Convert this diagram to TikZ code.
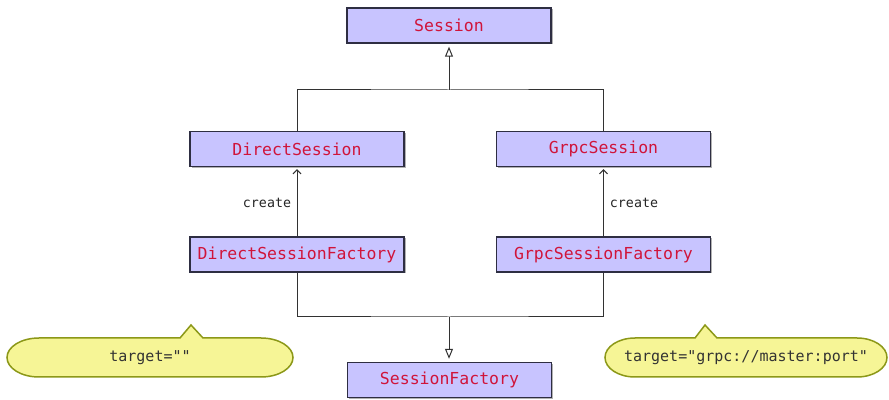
\documentclass[tikz,border=0pt]{standalone}
\usepackage{fontspec}
\setmonofont{DejaVu Sans Mono}
\usetikzlibrary{arrows.meta,shadows}

\definecolor{classfill}{RGB}{200,196,255}
\definecolor{classedge}{RGB}{46,46,66}
\definecolor{classtext}{RGB}{208,20,58}
\definecolor{noteedge}{RGB}{140,152,24}
\definecolor{notefill}{RGB}{246,245,150}
\definecolor{wire}{RGB}{50,50,50}

\tikzset{
  classbox/.style={draw=classedge, line width=1.4pt, fill=classfill,
    minimum height=35pt, inner sep=0pt, text=classtext,
    font=\ttfamily\fontsize{16.5}{20}\selectfont,
    drop shadow={shadow xshift=1.5pt, shadow yshift=-1.5pt, fill=black, opacity=0.3}},
  wideclass/.style={classbox, minimum width=214pt},
  narrowclass/.style={classbox, minimum width=204pt},
  wireline/.style={draw=wire, line width=1pt},
  inherit/.style={wireline, -{Triangle[open, length=10pt, width=8pt]}, shorten >=3pt},
  creates/.style={wireline, -{Straight Barb[length=4pt, width=8pt]}, shorten >=2pt},
  relabel/.style={text=black!85, font=\ttfamily\fontsize{13.3}{16}\selectfont},
  notebody/.style={draw=noteedge, line width=1.5pt, fill=notefill},
  notetext/.style={text=black!80, font=\ttfamily\fontsize{15}{18}\selectfont},
}

\begin{document}
\begin{tikzpicture}[x=1pt, y=1pt]
  \fill[white] (0,0) rectangle (889,399);
  \useasboundingbox (0,0) rectangle (889,399);

  % class boxes
  \node[narrowclass] (s)   at (449,373.5) {Session};
  \node[wideclass]   (ds)  at (297,250)   {DirectSession};
  \node[wideclass]   (gs)  at (603.5,250) {GrpcSession};
  \node[wideclass]   (dsf) at (297,144.5) {DirectSessionFactory};
  \node[wideclass]   (gsf) at (603.5,144.5) {GrpcSessionFactory};
  \node[narrowclass] (sf)  at (449.5,19)  {SessionFactory};

  % inheritance from Session
  \coordinate (topbar) at (449,309);
  \draw[wireline] (ds.north) |- (topbar) -| (gs.north);
  \draw[inherit] (topbar) -- (topbar |- s.south);

  % inheritance from SessionFactory
  \coordinate (botbar) at (449,82);
  \draw[wireline] (dsf.south) |- (botbar) -| (gsf.south);
  \draw[inherit] (botbar) -- (botbar |- sf.north);

  % create relations
  \draw[creates] (dsf.north) -- (ds.south);
  \draw[creates] (gsf.north) -- (gs.south);
  \node[relabel] (cl) at (267,196) {create};
  \node[relabel] (cr) at (634,196) {create};

  % notes
  \path[notebody]
    (7,41.5) arc[start angle=180, end angle=90, x radius=32, y radius=19.5]
    -- (180,61) -- (191,74) -- (203,61)
    -- (261,61) arc[start angle=90, end angle=-90, x radius=32, y radius=19.5]
    -- (39,22) arc[start angle=270, end angle=180, x radius=32, y radius=19.5]
    -- cycle;
  \node[notetext] (nl) at (150,41.5) {target=""};

  \path[notebody]
    (605,41.5) arc[start angle=180, end angle=90, x radius=30, y radius=19.5]
    -- (695,61) -- (705,74) -- (717,61)
    -- (857,61) arc[start angle=90, end angle=-90, x radius=30, y radius=19.5]
    -- (635,22) arc[start angle=270, end angle=180, x radius=30, y radius=19.5]
    -- cycle;
  \node[notetext] (nr) at (746,41.5) {target="grpc://master:port"};
\end{tikzpicture}
\end{document}
